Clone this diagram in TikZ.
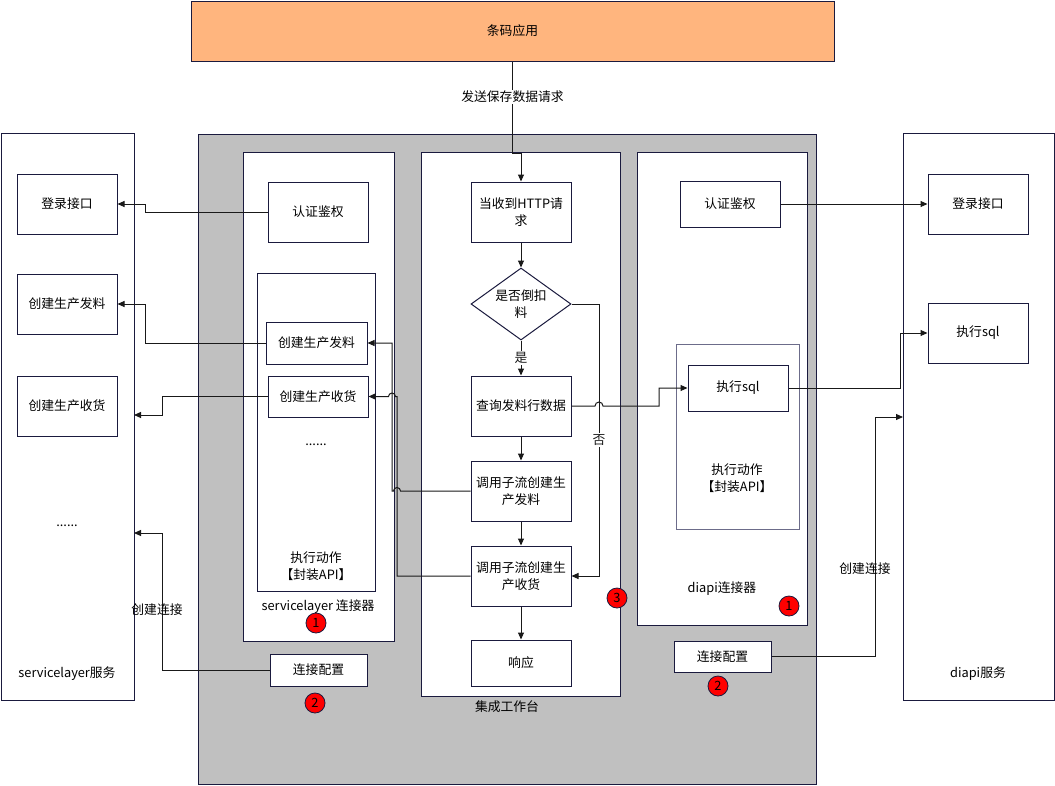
\documentclass[tikz,border=0pt]{standalone}
\usepackage{fontspec}
\setmainfont{Noto Sans CJK SC}
\usetikzlibrary{arrows.meta,shapes.geometric}
\definecolor{navy}{HTML}{1A1A3E}
\definecolor{appfill}{HTML}{FFB57E}
\definecolor{panel}{HTML}{C0C0C0}
\definecolor{actline}{HTML}{6C6C8A}
\definecolor{hot}{HTML}{FF0000}

\begin{document}
\begin{tikzpicture}[x=1pt,y=-1pt,
    font=\fontsize{12.8}{17}\selectfont,
    box/.style={draw=navy,fill=white,line width=1pt,inner sep=0pt,align=center},
    arr/.style={-{Triangle[length=7pt,width=6pt]},line width=1pt,black!90},
    badge/.style={circle,draw=navy,fill=hot,line width=0.8pt,minimum size=20pt,inner sep=0pt},
    elabel/.style={fill=white,inner sep=1pt}]
    \useasboundingbox (0,0) rectangle (1055,785);

    % App on top
    \node[box,fill=appfill,minimum width=643,minimum height=60] (app) at (512.5,31) {条码应用};

    % Services left and right
    \node[box,minimum width=133,minimum height=567] (slsvc) at (67.5,416.5) {};
    \node[box,minimum width=151,minimum height=567] (disvc) at (978.5,416.5) {};
    \node (slsvclbl) at (67,674) {servicelayer服务};
    \node (disvclbl) at (978,674) {diapi服务};
    \node (sldots) at (67,526) {......};
    \node[box,minimum width=100,minimum height=60] (sLogin) at (67,204) {登录接口};
    \node[box,minimum width=100,minimum height=60] (sIssue) at (67,304) {创建生产发料};
    \node[box,minimum width=100,minimum height=60] (sRecv) at (67,406) {创建生产收货};
    \node[box,minimum width=100,minimum height=60] (dLogin) at (978,204) {登录接口};
    \node[box,minimum width=100,minimum height=60] (dSql) at (978,333) {执行sql};
    \coordinate (slIn1) at (134,415);
    \coordinate (slIn2) at (134,533);
    \coordinate (diIn) at (903,417);

    % Gray platform
    \node[box,fill=panel,minimum width=618,minimum height=650] (plat) at (507,459) {};

    % servicelayer connector
    \node[box,minimum width=151,minimum height=489] (slconn) at (318.5,396.5) {};
    \node[box,minimum width=118,minimum height=318] (slact) at (316,432) {};
    \node (sldots2) at (316,445) {......};
    \node[align=center] (slactlbl) at (316,566) {执行动作\\【封装API】};
    \node (slconnlbl) at (318,607) {servicelayer 连接器};
    \node[badge] (slone) at (316,623) {1};
    \node[box,minimum width=100,minimum height=60] (slAuth) at (318,212) {认证鉴权};
    \node[box,minimum width=101,minimum height=42] (slIssue) at (316.5,343) {创建生产发料};
    \node[box,minimum width=100,minimum height=41] (slRecv) at (318,396.5) {创建生产收货};
    \node[box,minimum width=97,minimum height=32] (slCfg) at (318.5,670) {连接配置};
    \node[badge] (sltwo) at (315,703) {2};

    % Workbench flow
    \node[box,minimum width=199,minimum height=544] (wb) at (520.5,424) {};
    \node (wblbl) at (507,707) {集成工作台};
    \node[badge] (wbthree) at (617,598) {3};
    \node[box,minimum width=100,minimum height=60] (http) at (521,212) {当收到HTTP请\\求};
    \node[box,diamond,aspect=1.39,minimum width=100,minimum height=72] (dec) at (521,304) {是否倒扣\\料};
    \node[box,minimum width=100,minimum height=60] (query) at (521,406) {查询发料行数据};
    \node[box,minimum width=100,minimum height=60] (sub1) at (521,491) {调用子流创建生\\产发料};
    \node[box,minimum width=100,minimum height=60] (sub2) at (521,576) {调用子流创建生\\产收货};
    \node[box,minimum width=100,minimum height=46] (resp) at (521,663) {响应};

    % diapi connector
    \node[box,minimum width=170,minimum height=473] (diconn) at (722,388.5) {};
    \node[box,draw=actline,minimum width=123,minimum height=185] (diact) at (737.5,436.5) {};
    \node[align=center] (diactlbl) at (737,478) {执行动作\\【封装API】};
    \node (diconnlbl) at (722,589) {diapi连接器};
    \node[badge] (dione) at (789,606) {1};
    \node[box,minimum width=100,minimum height=46] (diAuth) at (730,204) {认证鉴权};
    \node[box,minimum width=100,minimum height=46] (diSql) at (738,388) {执行sql};
    \node[box,minimum width=97,minimum height=31] (diCfg) at (722.5,656.5) {连接配置};
    \node[badge] (ditwo) at (718,686) {2};

    % Request into the flow
    \draw[arr] (app.south) -- (512.5,153) -| (http.north);
    \node[elabel] (sendlbl) at (512.5,97) {发送保存数据请求};

    % Flow
    \draw[arr] (http.south) -- (dec.north);
    \draw[arr] (dec.south) -- (query.north) node[elabel,midway] {是};
    \draw[arr] (query.south) -- (sub1.north);
    \draw[arr] (sub1.south) -- (sub2.north);
    \draw[arr] (sub2.south) -- (resp.north);
    \draw[arr] (dec.east) -- (599,304) -- (599,576) node[elabel,pos=0.5] {否} -- (sub2.east);
    \draw[arr] (query.east) -- (595,406) arc[start angle=180,end angle=0,radius=4pt] -- (659,406) |- (diSql.west);

    % Sub flows to servicelayer actions
    \draw[arr] (sub1.west) -- (400.5,491) arc[start angle=0,end angle=180,radius=3.5pt] -- (392,491) |- (slIssue.east);
    \draw[arr] (sub2.west) -- (397,576) -- (397,396.5) -- (395.5,396.5) arc[start angle=0,end angle=180,radius=3.5pt] -- (slRecv.east);

    % servicelayer calls
    \draw[arr] (slAuth.west) -- (145,212) |- (sLogin.east);
    \draw[arr] (slIssue.west) -- (145,343) |- (sIssue.east);
    \draw[arr] (slRecv.west) -- (162,396.5) |- (slIn1);
    \draw[arr] (slCfg.west) -- (162,670) |- (slIn2);
    \node (sllink) at (157,610) {创建连接};

    % diapi calls
    \draw[arr] (diAuth.east) -- (dLogin.west);
    \draw[arr] (diSql.east) -- (900,388) |- (dSql.west);
    \draw[arr] (diCfg.east) -- (875,656.5) |- (diIn);
    \node (dilink) at (865,569) {创建连接};
\end{tikzpicture}
\end{document}
